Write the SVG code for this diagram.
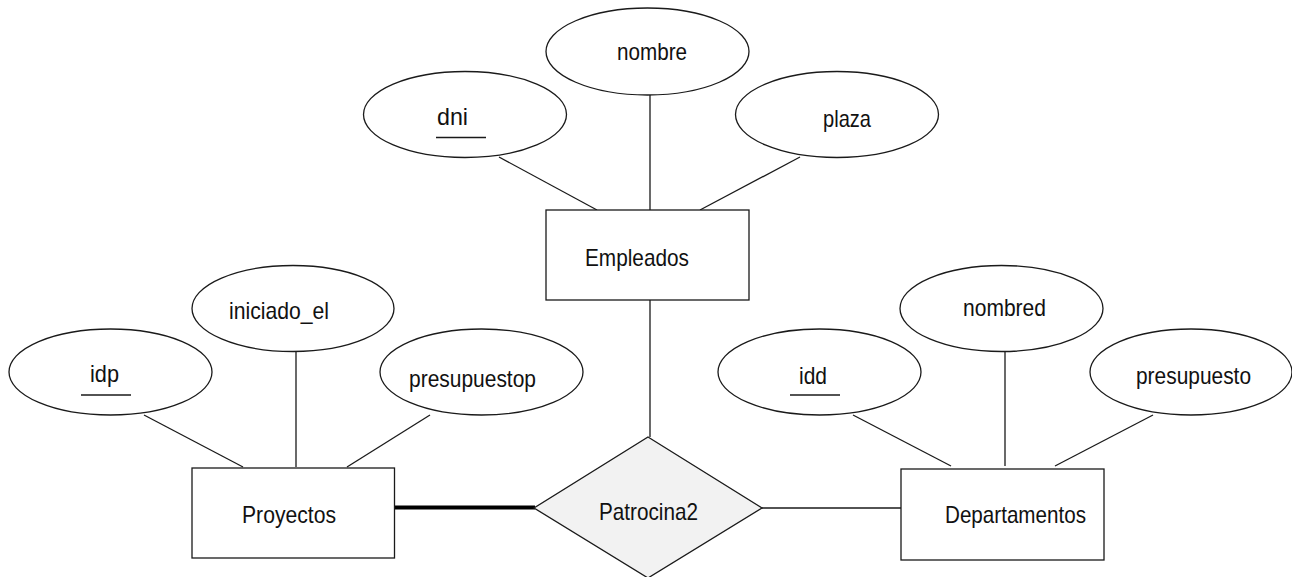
<svg xmlns="http://www.w3.org/2000/svg" width="1292" height="577" viewBox="0 0 1292 577">
  <style>
    .attr ellipse { fill: #ffffff; stroke: #1a1a1a; stroke-width: 1.3; }
    .entity rect { fill: #ffffff; stroke: #1a1a1a; stroke-width: 1.3; }
    .rel polygon { fill: #f2f2f2; stroke: #1a1a1a; stroke-width: 1.3; }
    text { font-family: "Liberation Sans", Arial, Helvetica, sans-serif; font-size: 24px; fill: #111111; }
    .key line { stroke: #1a1a1a; stroke-width: 1.3; }
    #connectors line { stroke: #1a1a1a; stroke-width: 1.3; }
    #connectors line.total { stroke: #000000; stroke-width: 4; }
  </style>
  <rect width="1292" height="577" fill="#ffffff"/>

  <!-- links between entities, attributes and the relationship -->
  <g id="connectors">
    <line x1="499" y1="157" x2="597" y2="210"/>
    <line x1="650" y1="95" x2="650" y2="210"/>
    <line x1="800" y1="157" x2="700" y2="210"/>
    <line x1="650" y1="300" x2="650" y2="437"/>
    <line x1="144" y1="415" x2="243" y2="467"/>
    <line x1="296" y1="351" x2="296" y2="467"/>
    <line x1="430" y1="415" x2="347" y2="467"/>
    <line x1="853" y1="415" x2="951" y2="466"/>
    <line x1="1005" y1="352" x2="1005" y2="466"/>
    <line x1="1153" y1="415" x2="1055" y2="466"/>
    <line class="total" x1="394" y1="507.5" x2="535" y2="507.5"/>
    <line x1="762" y1="508" x2="901" y2="508"/>
  </g>

  <!-- Empleados and its attributes -->
  <g id="attr-nombre" class="attr">
    <ellipse cx="647.5" cy="51.5" rx="101.5" ry="43.5"/>
    <text x="617" y="60" textLength="70" lengthAdjust="spacingAndGlyphs">nombre</text>
  </g>
  <g id="attr-dni" class="attr key">
    <ellipse cx="465" cy="114.5" rx="101.5" ry="43"/>
    <text x="437" y="125" textLength="31" lengthAdjust="spacingAndGlyphs">dni</text>
    <line x1="436" y1="137.5" x2="486" y2="137.5"/>
  </g>
  <g id="attr-plaza" class="attr">
    <ellipse cx="837" cy="114.5" rx="101.5" ry="43"/>
    <text x="823" y="127" textLength="48" lengthAdjust="spacingAndGlyphs">plaza</text>
  </g>
  <g id="entity-empleados" class="entity">
    <rect x="546" y="210" width="203" height="90"/>
    <text x="585" y="266" textLength="104" lengthAdjust="spacingAndGlyphs">Empleados</text>
  </g>

  <!-- Proyectos and its attributes -->
  <g id="attr-idp" class="attr key">
    <ellipse cx="110.5" cy="372" rx="101.5" ry="43"/>
    <text x="90" y="382" textLength="29" lengthAdjust="spacingAndGlyphs">idp</text>
    <line x1="81" y1="395" x2="131" y2="395"/>
  </g>
  <g id="attr-iniciado_el" class="attr">
    <ellipse cx="293" cy="308.5" rx="101" ry="43"/>
    <text x="229" y="319" textLength="100" lengthAdjust="spacingAndGlyphs">iniciado_el</text>
  </g>
  <g id="attr-presupuestop" class="attr">
    <ellipse cx="481.5" cy="372" rx="101.5" ry="43"/>
    <text x="409" y="387" textLength="127" lengthAdjust="spacingAndGlyphs">presupuestop</text>
  </g>
  <g id="entity-proyectos" class="entity">
    <rect x="192" y="468" width="202.5" height="90"/>
    <text x="242" y="523" textLength="94" lengthAdjust="spacingAndGlyphs">Proyectos</text>
  </g>

  <!-- Departamentos and its attributes -->
  <g id="attr-idd" class="attr key">
    <ellipse cx="819.5" cy="372" rx="101.5" ry="43"/>
    <text x="799" y="384" textLength="28" lengthAdjust="spacingAndGlyphs">idd</text>
    <line x1="790" y1="395" x2="840" y2="395"/>
  </g>
  <g id="attr-nombred" class="attr">
    <ellipse cx="1001.5" cy="308.5" rx="101.5" ry="43"/>
    <text x="963" y="316" textLength="83" lengthAdjust="spacingAndGlyphs">nombred</text>
  </g>
  <g id="attr-presupuesto" class="attr">
    <ellipse cx="1191" cy="372" rx="101" ry="43"/>
    <text x="1136" y="384" textLength="115" lengthAdjust="spacingAndGlyphs">presupuesto</text>
  </g>
  <g id="entity-departamentos" class="entity">
    <rect x="901" y="469" width="203" height="91"/>
    <text x="945" y="523" textLength="141" lengthAdjust="spacingAndGlyphs">Departamentos</text>
  </g>

  <!-- relationship -->
  <g id="rel-patrocina2" class="rel">
    <polygon points="648,437 762,508 648,578 534,508"/>
    <text x="599" y="520" textLength="99" lengthAdjust="spacingAndGlyphs">Patrocina2</text>
  </g>
</svg>
